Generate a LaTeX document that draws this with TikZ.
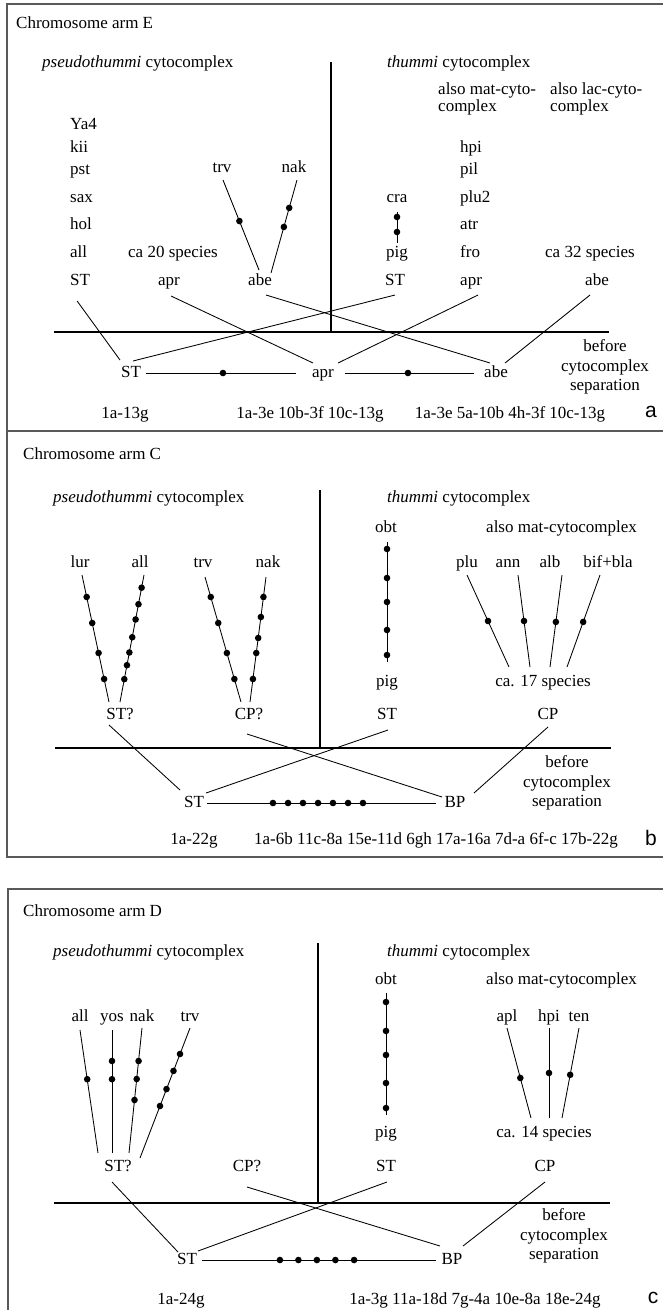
\documentclass[tikz,border=0pt]{standalone}
\usepackage{fontspec}
\setmainfont{Liberation Serif}
\newfontfamily\panelfont{Liberation Sans}
\usetikzlibrary{calc}
\begin{document}
\begin{tikzpicture}[x=1pt,y=-1pt,
  every node/.style={inner sep=0pt, font=\fontsize{17}{15}\selectfont},
  lbl/.style={text height=11.5pt, text depth=3.5pt},
  wl/.style={lbl, anchor=west},
  three/.style={align=center, font=\fontsize{17}{19.5}\selectfont},
  dotm/.style={circle, fill=black, inner sep=0pt, minimum size=6.6pt},
  br/.style={line width=0.85pt},
  axis/.style={line width=1.2pt},
  frm/.style={line width=1.4pt, draw=black!65},
  panl/.style={font=\panelfont\fontsize{21}{21}\selectfont}
]
\useasboundingbox (0,0) rectangle (663,1310);
\clip (0,0) rectangle (663,1310);

% ---------- frames ----------
\coordinate (f1) at (690,4); \coordinate (f2) at (7,4);
\coordinate (f3) at (7,857); \coordinate (f4) at (690,857);
\coordinate (f5) at (7,431); \coordinate (f6) at (690,431);
\coordinate (f7) at (690,889); \coordinate (f8) at (8,889); \coordinate (f9) at (8,1330);
\draw[frm] (f1) -- (f2) -- (f3) -- (f4);
\draw[frm] (f5) -- (f6);
\draw[frm] (f7) -- (f8) -- (f9);

% =============== panel a ===============
\node[wl] (aT) at (16,24) {Chromosome arm E};
\node[wl] (aP) at (42,63) {\textit{pseudothummi} cytocomplex};
\node[wl] (aQ) at (387,63) {\textit{thummi} cytocomplex};
\node[anchor=west, align=left] (aM) at (438,99) {also mat-cyto-\\complex};
\node[anchor=west, align=left] (aL) at (550,99) {also lac-cyto-\\complex};

\node[wl] (aYa) at (70,125) {Ya4};
\node[wl] (akii) at (70,148) {kii};
\node[wl] (apst) at (70,170) {pst};
\node[wl] (asax) at (70,198) {sax};
\node[wl] (ahol) at (70,225) {hol};
\node[wl] (aall) at (70,253) {all};
\node[wl] (aST1) at (70,281) {ST};

\node[wl] (ahpi) at (460,148) {hpi};
\node[wl] (apil) at (460,170) {pil};
\node[wl] (aplu) at (460,198) {plu2};
\node[wl] (aatr) at (460,225) {atr};
\node[wl] (afro) at (460,253) {fro};
\node[wl] (aapr2) at (460,281) {apr};

\node[lbl] (atrv) at (222,168) {trv};
\node[lbl] (anak) at (294,168) {nak};
\node[lbl] (acra) at (397,198) {cra};
\node[lbl] (apig) at (397,253) {pig};
\node[lbl] (aca20) at (173,253) {ca 20 species};
\node[lbl] (aca32) at (590,253) {ca 32 species};
\node[lbl] (aapr1) at (169,281) {apr};
\node[lbl] (aabe1) at (260,281) {abe};
\node[lbl] (aST2) at (395,281) {ST};
\node[lbl] (aabe2) at (597,281) {abe};

\node[lbl] (aSTb) at (131,373) {ST};
\node[lbl] (aaprb) at (323,373) {apr};
\node[lbl] (aabeb) at (496,373) {abe};
\node[three] (abef) at (605,367) {before\\cytocomplex\\separation};

\node[lbl] (aL1) at (125,414) {1a-13g};
\node[lbl] (aL2) at (310,414) {1a-3e 10b-3f 10c-13g};
\node[lbl] (aL3) at (510,414) {1a-3e 5a-10b 4h-3f 10c-13g};
\node[panl] (alet) at (651,412) {a};

\coordinate (aV1) at (331,62); \coordinate (aV2) at (331,332);
\coordinate (aH1) at (54,332); \coordinate (aH2) at (609,332);
\draw[axis] (aV1) -- (aV2);
\draw[axis] (aH1) -- (aH2);

\draw[br] ($(atrv)+(1,12)$) -- ($(aabe1)+(-1,-11)$) node[dotm,pos=0.456]{};
\draw[br] ($(anak)+(3,12)$) -- ($(aabe1)+(11,-8)$) node[dotm,pos=0.30]{} node[dotm,pos=0.505]{};
\draw[br] ($(acra)+(0,14)$) -- ($(apig)+(0,-10)$) node[dotm,pos=0.16]{} node[dotm,pos=0.645]{};

\draw[br] ($(aST1)+(-3,20)$) -- ($(aSTb)+(-11,-13)$);
\draw[br] ($(aapr1)+(2,15)$) -- ($(aaprb)+(-10,-10)$);
\draw[br] ($(aabe1)+(6,14)$) -- ($(aabeb)+(-6,-10)$);
\draw[br] ($(aST2)+(0,14)$) -- ($(aSTb)+(2,-12)$);
\draw[br] ($(aapr2)+(7,14)$) -- ($(aaprb)+(15,-10)$);
\draw[br] ($(aabe2)+(-7,14)$) -- ($(aabeb)+(9,-10)$);
\draw[br] ($(aSTb)+(15,0)$) -- ($(aaprb)+(-27,0)$) node[dotm,pos=0.513]{};
\draw[br] ($(aaprb)+(22,0)$) -- ($(aabeb)+(-22,0)$) node[dotm,pos=0.488]{};

% =============== panel b ===============
\node[wl] (bT) at (23,455) {Chromosome arm C};
\node[wl] (bP) at (53,498) {\textit{pseudothummi} cytocomplex};
\node[wl] (bQ) at (387,498) {\textit{thummi} cytocomplex};
\node[lbl] (bobt) at (386,528) {obt};
\node[wl] (bM) at (486,528) {also mat-cytocomplex};

\node[lbl] (blur) at (80,563) {lur};
\node[lbl] (ball) at (140,563) {all};
\node[lbl] (btrv) at (203,563) {trv};
\node[lbl] (bnak) at (268,563) {nak};
\node[lbl] (bplu) at (467,563) {plu};
\node[lbl] (bann) at (508,563) {ann};
\node[lbl] (balb) at (550,563) {alb};
\node[lbl] (bbif) at (608,563) {bif+bla};

\node[lbl] (bpig) at (387,682) {pig};
\node[lbl] (bca) at (543,682) {ca. 17 species};
\node[lbl] (bSTq) at (120,715) {ST?};
\node[lbl] (bCPq) at (249,715) {CP?};
\node[lbl] (bST) at (387,715) {ST};
\node[lbl] (bCP) at (548,715) {CP};

\node[lbl] (bSTb) at (194,803) {ST};
\node[lbl] (bBP) at (455,803) {BP};
\node[three] (bbef) at (567,783) {before\\cytocomplex\\separation};

\node[lbl] (bL1) at (194,840) {1a-22g};
\node[lbl] (bL2) at (436,840) {1a-6b 11c-8a 15e-11d 6gh 17a-16a 7d-a 6f-c 17b-22g};
\node[panl] (blet) at (651,838) {b};

\coordinate (bV1) at (320,490); \coordinate (bV2) at (320,748);
\coordinate (bH1) at (55,748); \coordinate (bH2) at (611,748);
\draw[axis] (bV1) -- (bV2);
\draw[axis] (bH1) -- (bH2);

\draw[br] ($(blur)+(2,12)$) -- ($(bSTq)+(-11,-13)$)
  node[dotm,pos=0.173]{} node[dotm,pos=0.378]{} node[dotm,pos=0.614]{} node[dotm,pos=0.819]{};
\draw[br] ($(ball)+(4,12)$) -- ($(bSTq)+(0,-13)$)
  node[dotm,pos=0.10]{} node[dotm,pos=0.23]{} node[dotm,pos=0.35]{} node[dotm,pos=0.49]{}
  node[dotm,pos=0.61]{} node[dotm,pos=0.71]{} node[dotm,pos=0.82]{};
\draw[br] ($(btrv)+(2,14)$) -- ($(bCPq)+(-8,-13)$)
  node[dotm,pos=0.16]{} node[dotm,pos=0.368]{} node[dotm,pos=0.608]{} node[dotm,pos=0.816]{};
\draw[br] ($(bnak)+(-2,14)$) -- ($(bCPq)+(1,-13)$)
  node[dotm,pos=0.16]{} node[dotm,pos=0.32]{} node[dotm,pos=0.488]{} node[dotm,pos=0.608]{} node[dotm,pos=0.816]{};
\draw[br] ($(bobt)+(1,14)$) -- ($(bpig)+(0,-20)$)
  node[dotm,pos=0.058]{} node[dotm,pos=0.30]{} node[dotm,pos=0.50]{} node[dotm,pos=0.733]{} node[dotm,pos=0.942]{};
\draw[br] ($(bplu)+(0,12)$) -- ($(bca)+(-34,-15)$) node[dotm,pos=0.5]{};
\draw[br] ($(bann)+(10,12)$) -- ($(bca)+(-13,-15)$) node[dotm,pos=0.5]{};
\draw[br] ($(balb)+(12,12)$) -- ($(bca)+(7,-15)$) node[dotm,pos=0.51]{};
\draw[br] ($(bbif)+(-8,12)$) -- ($(bca)+(24,-15)$) node[dotm,pos=0.51]{};

\draw[br] ($(bSTq)+(-11,10)$) -- ($(bSTb)+(-14,-13)$);
\draw[br] ($(bCPq)+(-2,19)$) -- ($(bBP)+(-13,-6)$);
\draw[br] ($(bST)+(1,15)$) -- ($(bSTb)+(12,-10)$);
\draw[br] ($(bCP)+(0,12)$) -- ($(bBP)+(19,-10)$);
\draw[br] ($(bSTb)+(13,0)$) -- ($(bBP)+(-19,0)$)
  node[dotm,pos=0.288]{} node[dotm,pos=0.354]{} node[dotm,pos=0.419]{} node[dotm,pos=0.485]{}
  node[dotm,pos=0.550]{} node[dotm,pos=0.616]{} node[dotm,pos=0.681]{};

% =============== panel c ===============
\node[wl] (cT) at (23,912) {Chromosome arm D};
\node[wl] (cP) at (53,952) {\textit{pseudothummi} cytocomplex};
\node[wl] (cQ) at (387,952) {\textit{thummi} cytocomplex};
\node[lbl] (cobt) at (386,980) {obt};
\node[wl] (cM) at (486,980) {also mat-cytocomplex};

\node[lbl] (call) at (80,1017) {all};
\node[lbl] (cyos) at (112,1017) {yos};
\node[lbl] (cnak) at (142,1017) {nak};
\node[lbl] (ctrv) at (190,1017) {trv};
\node[lbl] (capl) at (507,1017) {apl};
\node[lbl] (chpi) at (549,1017) {hpi};
\node[lbl] (cten) at (579,1017) {ten};

\node[lbl] (cpig) at (386,1133) {pig};
\node[lbl] (cca) at (544,1133) {ca. 14 species};
\node[lbl] (cSTq) at (118,1167) {ST?};
\node[lbl] (cCPq) at (247,1167) {CP?};
\node[lbl] (cST) at (386,1167) {ST};
\node[lbl] (cCP) at (545,1167) {CP};

\node[lbl] (cSTb) at (187,1260) {ST};
\node[lbl] (cBP) at (452,1260) {BP};
\node[three] (cbef) at (564,1236) {before\\cytocomplex\\separation};

\node[lbl] (cL1) at (181,1300) {1a-24g};
\node[lbl] (cL2) at (475,1300) {1a-3g 11a-18d 7g-4a 10e-8a 18e-24g};
\node[panl] (clet) at (653,1298) {c};

\coordinate (cV1) at (318,943); \coordinate (cV2) at (318,1203);
\coordinate (cH1) at (54,1203); \coordinate (cH2) at (610,1203);
\draw[axis] (cV1) -- (cV2);
\draw[axis] (cH1) -- (cH2);

\draw[br] ($(call)+(0,13)$) -- ($(cSTq)+(-20,-14)$) node[dotm,pos=0.40]{};
\draw[br] ($(cyos)+(0,13)$) -- ($(cSTq)+(-6,-14)$) node[dotm,pos=0.252]{} node[dotm,pos=0.40]{};
\draw[br] ($(cnak)+(0,11)$) -- ($(cSTq)+(11,-14)$)
  node[dotm,pos=0.264]{} node[dotm,pos=0.408]{} node[dotm,pos=0.576]{};
\draw[br] ($(ctrv)+(0,11)$) -- ($(cSTq)+(22,-9)$)
  node[dotm,pos=0.20]{} node[dotm,pos=0.33]{} node[dotm,pos=0.47]{} node[dotm,pos=0.60]{};
\draw[br] ($(cobt)+(0,13)$) -- ($(cpig)+(0,-18)$)
  node[dotm,pos=0.074]{} node[dotm,pos=0.311]{} node[dotm,pos=0.508]{} node[dotm,pos=0.738]{} node[dotm,pos=0.943]{};
\draw[br] ($(capl)+(0,11)$) -- ($(cca)+(-13,-15)$) node[dotm,pos=0.555]{};
\draw[br] ($(chpi)+(0,11)$) -- ($(cca)+(5,-15)$) node[dotm,pos=0.5]{};
\draw[br] ($(cten)+(0,11)$) -- ($(cca)+(18,-15)$) node[dotm,pos=0.52]{};

\draw[br] ($(cSTq)+(-6,15)$) -- ($(cSTb)+(-9,-8)$);
\draw[br] ($(cCPq)+(0,20)$) -- ($(cBP)+(-12,-14)$);
\draw[br] ($(cST)+(1,15)$) -- ($(cSTb)+(11,-9)$);
\draw[br] ($(cCP)+(0,15)$) -- ($(cBP)+(11,-14)$);
\draw[br] ($(cSTb)+(15,0)$) -- ($(cBP)+(-16,0)$)
  node[dotm,pos=0.333]{} node[dotm,pos=0.412]{} node[dotm,pos=0.491]{} node[dotm,pos=0.570]{} node[dotm,pos=0.650]{};
\end{tikzpicture}
\end{document}
